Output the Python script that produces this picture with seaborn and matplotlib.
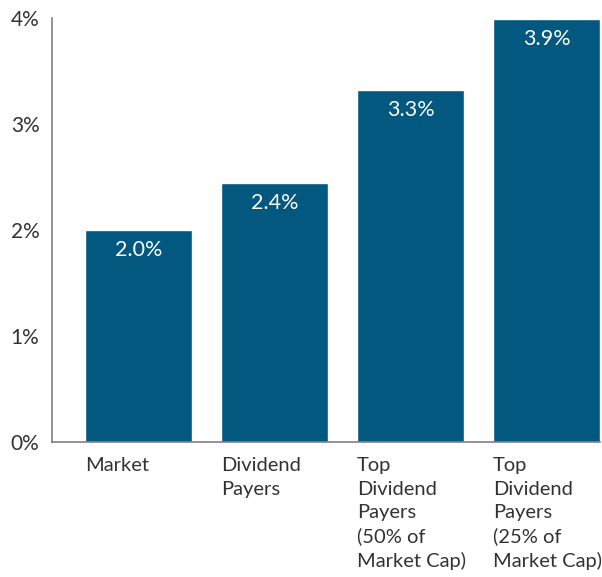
import matplotlib
matplotlib.use("Agg")
import matplotlib.pyplot as plt
import seaborn as sns
import pandas as pd

categories = ["Market", "Dividend\nPayers", "Top\nDividend\nPayers\n(50% of\nMarket Cap)",
              "Top\nDividend\nPayers\n(25% of\nMarket Cap)"]
values = [2.0, 2.44, 3.32, 3.99]
value_labels = ["2.0%", "2.4%", "3.3%", "3.9%"]
yticks = [0, 1, 2, 3, 4]
ytick_labels = ["0%", "1%", "2%", "3%", "4%"]

sns.set_style("white")
plt.rcParams['font.family'] = ['Lato', 'DejaVu Sans']

BAR = "#02587F"
TXT = "#333333"
AX = "#808080"

fig = plt.figure(figsize=(6.02, 5.77), dpi=100)
ax = fig.add_axes([52/602, 1-442/577, 548/602, 424/577])

df = pd.DataFrame({"cat": categories, "val": values})
width = 0.787
sns.barplot(data=df, x="cat", y="val", color=BAR, saturation=1, width=width, ax=ax)

ax.set_xlim(-0.636, 3 + width/2)
ax.set_ylim(0, 4)
ax.set_yticks(yticks)
ax.set_yticklabels(ytick_labels, fontsize=15, color=TXT)
ax.tick_params(axis='y', direction='in', length=11, width=1.2, color=AX, pad=9)

ax.set_xticks([i - width/2 for i in range(len(categories))])
ax.set_xticklabels(categories, ha='left', va='top', fontsize=14.5, color=TXT, linespacing=1.45)
ax.tick_params(axis='x', length=0, pad=11)
ax.set_xlabel("")
ax.set_ylabel("")

for s in ["top", "right"]:
    ax.spines[s].set_visible(False)
for s in ["left", "bottom"]:
    ax.spines[s].set_color(AX)
    ax.spines[s].set_linewidth(1.2)

for i, (v, lab) in enumerate(zip(values, value_labels)):
    ax.annotate(lab, xy=(i, v), xytext=(0, -7), textcoords="offset points",
                ha='center', va='top', fontsize=15.5, color="white")

fig.savefig("out.png", dpi=100)
